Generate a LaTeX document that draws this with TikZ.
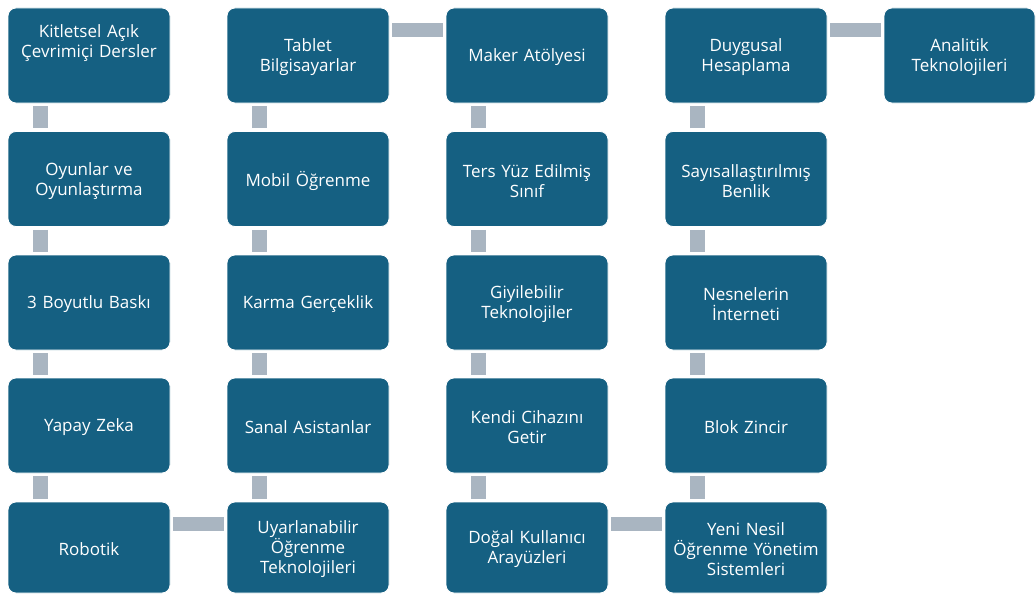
\documentclass[tikz,border=0pt]{standalone}
\usepackage{fontspec}
\setmainfont{Open Sans}
\usetikzlibrary{calc}
\definecolor{boxblue}{HTML}{156082}
\definecolor{bargrey}{HTML}{A9B5C1}
\tikzset{
  txt/.style={inner sep=0pt, text width=154pt, align=center, text=white,
    font=\fontsize{17}{20}\selectfont},
  box/.style={draw=white, line width=0.8pt, fill=boxblue, rounded corners=8pt,
    minimum width=162pt, minimum height=95pt, inner sep=0pt,
    label={[txt, yshift=-2pt]center:#1}},
  box/.default={},
  lastbox/.style={box=#1, minimum width=151pt},
  short/.style={minimum height=91pt},
  vbar/.style={draw=bargrey, line width=15pt, line cap=butt},
  hbar/.style={draw=bargrey, line width=14.5pt, line cap=butt}
}
\begin{document}
\begin{tikzpicture}[x=1pt,y=-1pt]
\useasboundingbox[fill=white] (0,0) rectangle (1036,594);
% column 1
\node[box] (a1) at (89,55.5) {};
\node[txt] (t1) at ($(a1.center)+(0,-12.5)$) {Kitletsel Açık\\Çevrimiçi Dersler};
\node[box={Oyunlar ve\\Oyunlaştırma}] (a2) at (89,179) {};
\node[box={3 Boyutlu Baskı}] (a3) at (89,302.5) {};
\node[box={Yapay Zeka}] (a4) at (89,425.5) {};
\node[box={Robotik}, short] (a5) at (89,547.5) {};
% column 2
\node[box={Uyarlanabilir\\Öğrenme\\Teknolojileri}, short] (b5) at (308,547.5) {};
\node[box={Sanal Asistanlar}] (b4) at (308,425.5) {};
\node[box={Karma Gerçeklik}] (b3) at (308,302.5) {};
\node[box={Mobil Öğrenme}] (b2) at (308,179) {};
\node[box={Tablet\\Bilgisayarlar}] (b1) at (308,55.5) {};
% column 3
\node[box={Maker Atölyesi}] (c1) at (527,55.5) {};
\node[box={Ters Yüz Edilmiş\\Sınıf}] (c2) at (527,179) {};
\node[box={Giyilebilir\\Teknolojiler}] (c3) at (527,302.5) {};
\node[box={Kendi Cihazını\\Getir}] (c4) at (527,425.5) {};
\node[box={Doğal Kullanıcı\\Arayüzleri}, short] (c5) at (527,547.5) {};
% column 4
\node[box={Yeni Nesil\\Öğrenme Yönetim\\Sistemleri}, short] (d5) at (746,547.5) {};
\node[box={Blok Zincir}] (d4) at (746,425.5) {};
\node[box={Nesnelerin\\İnterneti}] (d3) at (746,302.5) {};
\node[box={Sayısallaştırılmış\\Benlik}] (d2) at (746,179) {};
\node[box={Duygusal\\Hesaplama}] (d1) at (746,55.5) {};
% column 5
\node[lastbox={Analitik\\Teknolojileri}] (e1) at (959.5,55.5) {};
% vertical bars
\foreach \u/\v in {a1/a2,a2/a3,a3/a4,a4/a5,c1/c2,c2/c3,c3/c4,c4/c5}
  \draw[vbar] ($(\u.south west)+(32.5,3)$) -- ($(\v.north west)+(32.5,-3)$);
\foreach \u/\v in {b5/b4,b4/b3,b3/b2,b2/b1,d5/d4,d4/d3,d3/d2,d2/d1}
  \draw[vbar] ($(\u.north west)+(32.5,-3)$) -- ($(\v.south west)+(32.5,3)$);
% horizontal bars
\foreach \u/\v in {a5/b5,b1/c1,c5/d5,d1/e1}
  \draw[hbar] ($(\u.north east)+(3,22.5)$) -- ($(\v.north west)+(-3,22.5)$);
\end{tikzpicture}
\end{document}
